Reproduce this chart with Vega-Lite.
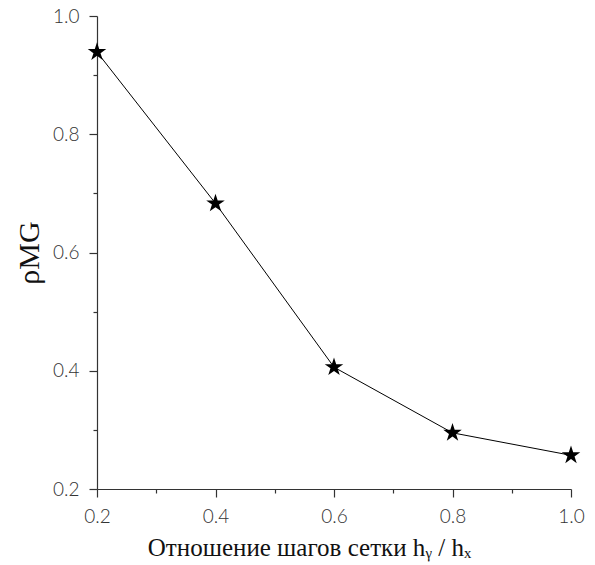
{
  "$schema": "https://vega.github.io/schema/vega-lite/v6.json",
  "width": 474,
  "height": 473,
  "autosize": "none",
  "padding": {"left": 97, "top": 16, "right": 24, "bottom": 76},
  "background": "white",
  "view": {"stroke": null},
  "data": {"values": [
    {"ratio": 0.2, "rho": 0.939},
    {"ratio": 0.4, "rho": 0.683},
    {"ratio": 0.6, "rho": 0.406},
    {"ratio": 0.8, "rho": 0.295},
    {"ratio": 1.0, "rho": 0.257}
  ]},
  "encoding": {
    "x": {
      "field": "ratio", "type": "quantitative",
      "scale": {"domain": [0.2, 1.0], "nice": false, "zero": false},
      "axis": {
        "values": [0.2, 0.3, 0.4, 0.5, 0.6, 0.7, 0.8, 0.9, 1.0],
        "format": ".1f",
        "labelExpr": "round(datum.value*10)%2==0 ? datum.label : ''",
        "tickSize": {"condition": {"test": "round(datum.value*10)%2==0", "value": 8}, "value": 4},
        "title": "Отношение шагов сетки  hᵧ / hₓ",
        "titleFont": "Liberation Serif",
        "titleFontSize": 25,
        "titleFontWeight": "normal",
        "titleColor": "#111",
        "titleX": 212,
        "titlePadding": 9
      }
    },
    "y": {
      "field": "rho", "type": "quantitative",
      "scale": {"domain": [0.2, 1.0], "nice": false, "zero": false},
      "axis": {
        "values": [0.2, 0.3, 0.4, 0.5, 0.6, 0.7, 0.8, 0.9, 1.0],
        "format": ".1f",
        "labelExpr": "round(datum.value*10)%2==0 ? datum.label : ''",
        "tickSize": {"condition": {"test": "round(datum.value*10)%2==0", "value": 8}, "value": 4},
        "title": "ρMG",
        "titleFont": "Liberation Serif",
        "titleFontSize": 30,
        "titleFontWeight": "normal",
        "titleColor": "#111",
        "titlePadding": 8
      }
    }
  },
  "config": {
    "axis": {
      "grid": false,
      "domainColor": "#333",
      "domainWidth": 1.2,
      "tickColor": "#333",
      "tickWidth": 1.2,
      "labelFont": "Lato",
      "labelFontWeight": 300,
      "labelFontSize": 19,
      "labelColor": "#333",
      "labelPadding": 10,
      "labelFlush": false,
      "labelOverlap": false
    }
  },
  "layer": [
    {"mark": {"type": "line", "color": "black", "strokeWidth": 1}},
    {"mark": {"type": "point", "filled": true, "color": "black", "opacity": 1, "size": 380,
      "shape": "M0,-1L0.2245,-0.309L0.951,-0.309L0.363,0.118L0.588,0.809L0,0.382L-0.588,0.809L-0.363,0.118L-0.951,-0.309L-0.2245,-0.309Z"}}
  ]
}
